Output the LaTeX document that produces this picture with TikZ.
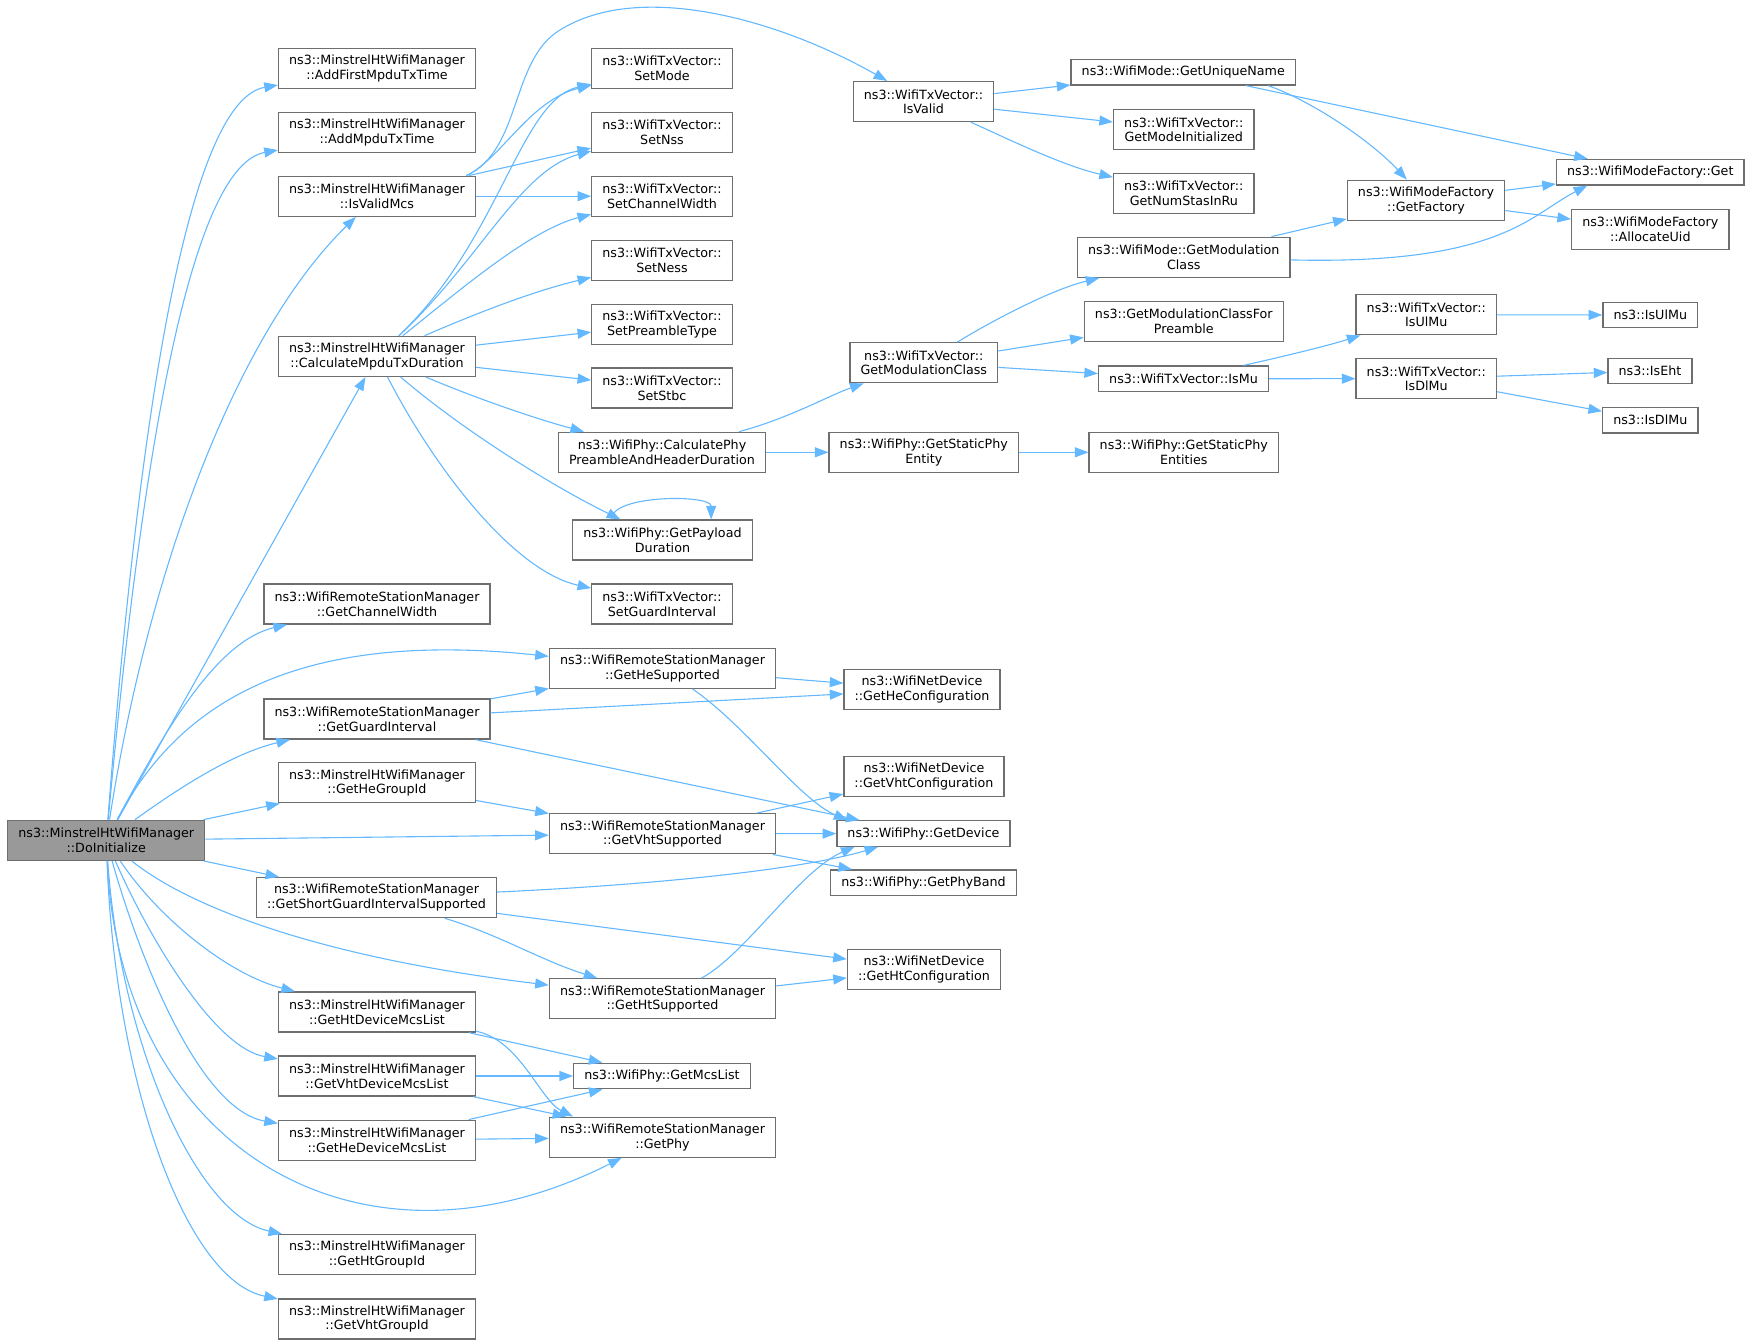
\documentclass[tikz,border=0pt]{standalone}
\usepackage{fontspec}
\setmainfont{DejaVu Sans}
\usepackage{tikz}
\usetikzlibrary{arrows.meta}
\definecolor{callblue} {RGB}{99,184,255}
\definecolor{boxgray}  {RGB}{110,110,110}
\definecolor{rootgray} {RGB}{153,153,153}
\tikzset{func box/.style={
    rectangle, draw=boxgray, fill=white, line width=0.65pt,
    align=center, inner xsep=5.3pt, inner ysep=0pt,
    minimum height=20pt,
    node font=\fontsize{6.35pt}{7.3pt}\selectfont
}}
\tikzset{short func/.style={
    func box, minimum height=12.75pt
}}
\tikzset{root func/.style={
    func box, fill=rootgray
}}
\tikzset{call/.style={
    color=callblue, line width=0.55pt,
    -{Triangle[length=6.8pt,width=5pt]}
}}
\begin{document}
\begin{tikzpicture}[x=0.5pt, y=-0.5pt]
            \useasboundingbox (0,0) rectangle (1752,1344);

            \node (do)      [root func]   at(106.3,840.3)  {ns3::MinstrelHtWifiManager\\::DoInitialize};

            \node (afm)     [func box]    at(377,68.3)     {ns3::MinstrelHtWifiManager\\::AddFirstMpduTxTime};
            \node (amt)     [func box]    at(377,132.2)    {ns3::MinstrelHtWifiManager\\::AddMpduTxTime};
            \node (ivm)     [func box]    at(377,196.2)    {ns3::MinstrelHtWifiManager\\::IsValidMcs};
            \node (calc)    [func box]    at(377,356.3)    {ns3::MinstrelHtWifiManager\\::CalculateMpduTxDuration};
            \node (gcw)     [func box]    at(377,604)      {ns3::WifiRemoteStationManager\\::GetChannelWidth};
            \node (ggi)     [func box]    at(377,719)      {ns3::WifiRemoteStationManager\\::GetGuardInterval};
            \node (hegid)   [func box]    at(377,782.8)    {ns3::MinstrelHtWifiManager\\::GetHeGroupId};
            \node (sgi)     [func box]    at(376.5,897.6)  {ns3::WifiRemoteStationManager\\::GetShortGuardIntervalSupported};
            \node (html)    [func box]    at(377,1012)     {ns3::MinstrelHtWifiManager\\::GetHtDeviceMcsList};
            \node (vhtml)   [func box]    at(377,1076)     {ns3::MinstrelHtWifiManager\\::GetVhtDeviceMcsList};
            \node (heml)    [func box]    at(377,1140.2)   {ns3::MinstrelHtWifiManager\\::GetHeDeviceMcsList};
            \node (htgid)   [func box]    at(377,1254.6)   {ns3::MinstrelHtWifiManager\\::GetHtGroupId};
            \node (vhtgid)  [func box]    at(377,1319)     {ns3::MinstrelHtWifiManager\\::GetVhtGroupId};

            \node (setmode) [func box]    at(662,68.3)     {ns3::WifiTxVector::\\SetMode};
            \node (setnss)  [func box]    at(662,132.2)    {ns3::WifiTxVector::\\SetNss};
            \node (setcw)   [func box]    at(662,196.2)    {ns3::WifiTxVector::\\SetChannelWidth};
            \node (setness) [func box]    at(662,260.3)    {ns3::WifiTxVector::\\SetNess};
            \node (setpre)  [func box]    at(662,324.2)    {ns3::WifiTxVector::\\SetPreambleType};
            \node (setstbc) [func box]    at(662,388)      {ns3::WifiTxVector::\\SetStbc};
            \node (cpp)     [func box]    at(662,452.3)    {ns3::WifiPhy::CalculatePhy\\PreambleAndHeaderDuration};
            \node (gpd)     [func box]    at(662.5,540)    {ns3::WifiPhy::GetPayload\\Duration};
            \node (setgi)   [func box]    at(662,604)      {ns3::WifiTxVector::\\SetGuardInterval};
            \node (hesup)   [func box]    at(662.5,668.3)  {ns3::WifiRemoteStationManager\\::GetHeSupported};
            \node (vhtsup)  [func box]    at(662.5,833.8)  {ns3::WifiRemoteStationManager\\::GetVhtSupported};
            \node (htsup)   [func box]    at(662.5,998.8)  {ns3::WifiRemoteStationManager\\::GetHtSupported};
            \node (mcslist) [short func]  at(662,1076)     {ns3::WifiPhy::GetMcsList};
            \node (getphy)  [func box]    at(662.5,1137.2) {ns3::WifiRemoteStationManager\\::GetPhy};

            \node (isvalid) [func box]    at(923.5,101.6)  {ns3::WifiTxVector::\\IsValid};
            \node (txmod)   [func box]    at(923.8,362.8)  {ns3::WifiTxVector::\\GetModulationClass};
            \node (spe)     [func box]    at(923.8,452.3)  {ns3::WifiPhy::GetStaticPhy\\Entity};
            \node (hecfg)   [func box]    at(922,689.7)    {ns3::WifiNetDevice\\::GetHeConfiguration};
            \node (vhtcfg)  [func box]    at(924,776.3)    {ns3::WifiNetDevice\\::GetVhtConfiguration};
            \node (getdev)  [short func]  at(923.5,833.5)  {ns3::WifiPhy::GetDevice};
            \node (phyband) [short func]  at(923.5,882.7)  {ns3::WifiPhy::GetPhyBand};
            \node (htcfg)   [func box]    at(924,969.2)    {ns3::WifiNetDevice\\::GetHtConfiguration};

            \node (uname)   [short func]  at(1183.3,72.2)  {ns3::WifiMode::GetUniqueName};
            \node (modeinit)[func box]    at(1183.8,129.6) {ns3::WifiTxVector::\\GetModeInitialized};
            \node (nstas)   [func box]    at(1183.8,193.5) {ns3::WifiTxVector::\\GetNumStasInRu};
            \node (modcls)  [func box]    at(1183.8,257.3) {ns3::WifiMode::GetModulation\\Class};
            \node (modpre)  [func box]    at(1183.8,321.5) {ns3::GetModulationClassFor\\Preamble};
            \node (ismu)    [short func]  at(1183.5,378.8) {ns3::WifiTxVector::IsMu};
            \node (spes)    [func box]    at(1183.8,452.3) {ns3::WifiPhy::GetStaticPhy\\Entities};

            \node (factory) [func box]    at(1426,200.2)   {ns3::WifiModeFactory\\::GetFactory};
            \node (txulmu)  [func box]    at(1426.3,314.8) {ns3::WifiTxVector::\\IsUlMu};
            \node (txdlmu)  [func box]    at(1426.3,378.6) {ns3::WifiTxVector::\\IsDlMu};

            \node (fget)    [short func]  at(1650.3,172.2) {ns3::WifiModeFactory::Get};
            \node (alloc)   [func box]    at(1650.3,229.5) {ns3::WifiModeFactory\\::AllocateUid};
            \node (ulmu)    [short func]  at(1650.3,315)   {ns3::IsUlMu};
            \node (iseht)   [short func]  at(1650,371)     {ns3::IsEht};
            \node (dlmu)    [short func]  at(1650.3,420.2) {ns3::IsDlMu};

            % straight calls
            \path [call]
              (do) edge (calc)
                   edge (hegid)
                   edge (vhtsup)
                   edge (sgi)
              (ivm) edge (setnss)
                    edge (setcw)
              (calc) edge (setpre)
                     edge (setstbc)
              (cpp) edge (spe)
              (spe) edge (spes)
              (isvalid) edge (uname)
                        edge (modeinit)
              (uname) edge (fget)
              (factory) edge (fget)
                        edge (alloc)
              (modcls) edge (factory)
              (txmod) edge (modpre)
                      edge (ismu)
              (ismu) edge (txdlmu)
              (txulmu) edge (ulmu)
              (txdlmu) edge (iseht)
                       edge (dlmu)
              (hesup) edge (hecfg)
              (ggi) edge (hesup)
                    edge (hecfg)
                    edge (getdev)
              (hegid) edge (vhtsup)
              (vhtsup) edge (vhtcfg)
                       edge (getdev)
                       edge (phyband)
              (sgi) edge (htcfg)
              (htsup) edge (htcfg)
              (html) edge (mcslist)
              (vhtml) edge (mcslist)
                      edge (getphy)
              (heml) edge (mcslist)
                     edge (getphy)
              ;

            % curved calls
            \draw [call] (do) .. controls (140,400) and (190,100) .. (afm);
            \draw [call] (do) .. controls (145,420) and (195,165) .. (amt);
            \draw [call] (do) .. controls (150,560) and (240,330) .. (ivm);
            \draw [call] (do) .. controls (170,720) and (220,640) .. (gcw);
            \draw [call] (do) .. controls (180,700) and (300,630) .. (hesup);
            \draw [call] (do) .. controls (190,780) and (238,752) .. (ggi);
            \draw [call] (do) .. controls (180,900) and (300,955) .. (htsup);
            \draw [call] (do) .. controls (160,920) and (230,975) .. (html);
            \draw [call] (do) .. controls (150,940) and (215,1048) .. (vhtml);
            \draw [call] (do) .. controls (140,960) and (200,1110) .. (heml);
            \draw [call] (do) .. controls (120,1150) and (360,1290) .. (getphy);
            \draw [call] (do) .. controls (120,1040) and (195,1215) .. (htgid);
            \draw [call] (do) .. controls (115,1080) and (185,1280) .. (vhtgid);

            \draw [call] (ivm.13) .. controls (500,160) and (530,100) .. (setmode);
            \draw [call] (ivm.13) .. controls (522,150) and (510,60) .. (560,30)
                                  .. controls (640,-20) and (780,20) .. (isvalid);
            \draw [call] (calc) .. controls (500,240) and (520,100) .. (setmode);
            \draw [call] (calc) .. controls (480,260) and (520,170) .. (setnss);
            \draw [call] (calc) .. controls (460,290) and (530,230) .. (setcw);
            \draw [call] (calc) .. controls (470,316) and (530,292) .. (setness);
            \draw [call] (calc) .. controls (480,400) and (540,420) .. (cpp);
            \draw [call] (calc) .. controls (450,420) and (540,480) .. (gpd);
            \draw [call] (calc) .. controls (430,460) and (510,570) .. (setgi);
            \draw [call] (gpd.158) .. controls +(0,-25) and +(0,-25) .. (gpd.23);

            \draw [call] (cpp) .. controls (790,418) and (830,395) .. (txmod);
            \draw [call] (isvalid) .. controls (1000,135) and (1060,165) .. (nstas);
            \draw [call] (uname.-9) .. controls (1310,100) and (1370,140) .. (factory);
            \draw [call] (modcls) .. controls (1500,265) and (1530,215) .. (fget.192);
            \draw [call] (txmod) .. controls (990,322) and (1050,290) .. (modcls);
            \draw [call] (ismu) .. controls (1290,355) and (1330,345) .. (txulmu);

            \draw [call] (hesup) .. controls (745,725) and (800,800) .. (getdev.170);
            \draw [call] (sgi) .. controls (650,885) and (800,870) .. (getdev);
            \draw [call] (sgi) .. controls (500,935) and (540,960) .. (htsup);
            \draw [call] (htsup) .. controls (745,955) and (800,870) .. (getdev.191);
            \draw [call] (html.-11) .. controls (520,1040) and (540,1100) .. (getphy.167);
        \end{tikzpicture}
\end{document}
